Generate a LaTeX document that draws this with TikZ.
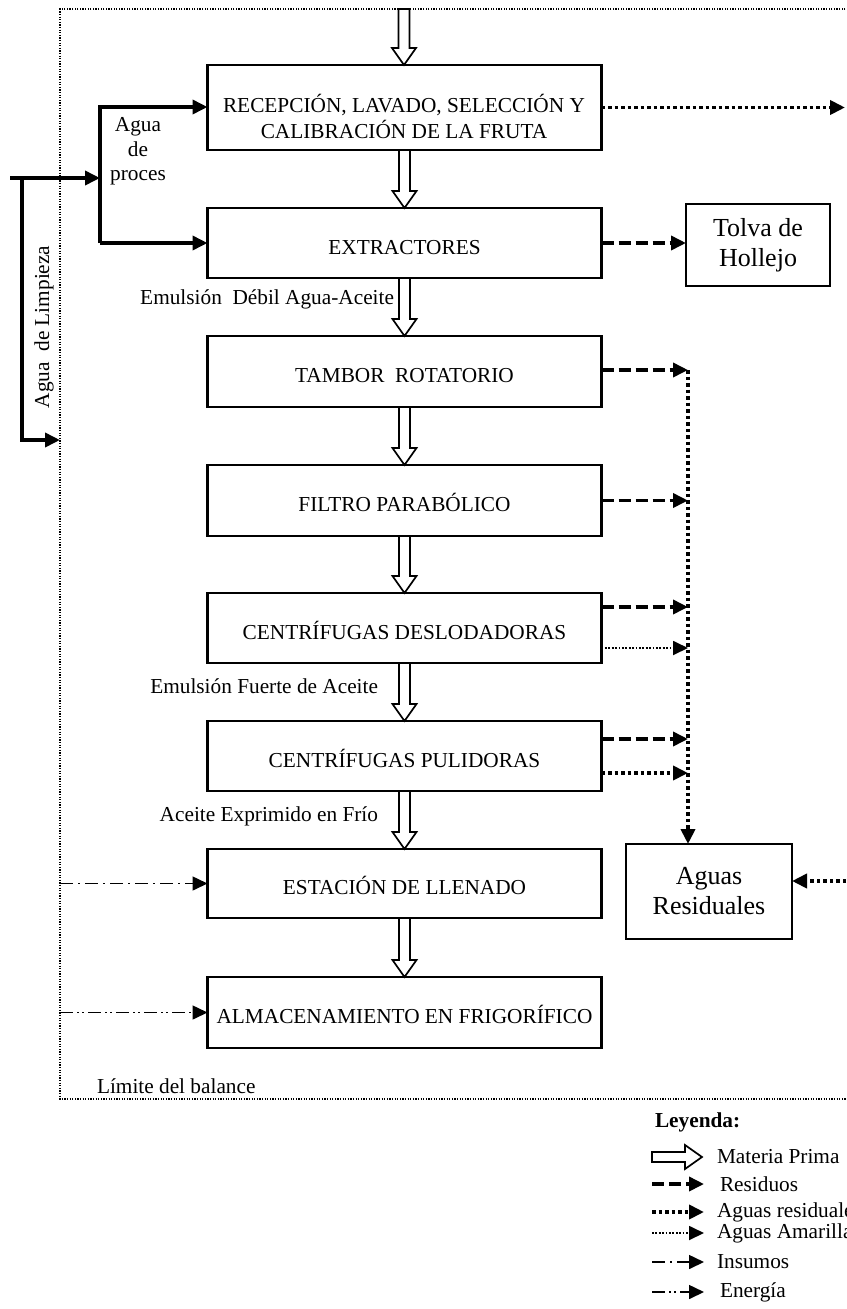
\documentclass[tikz,border=0pt]{standalone}
\usepackage{fontspec}
\setmainfont{Liberation Serif}
\usetikzlibrary{arrows.meta,calc}
\newcommand\hollowdown[2]{\draw[hollow] let \p1=(#1), \p2=(#2) in
  (\x1-5.5pt,\y1) -- (\x1-5.5pt,\y2+17pt) -- (\x1-12pt,\y2+17pt) -- (\x1,\y2)
  -- (\x1+12pt,\y2+17pt) -- (\x1+5.5pt,\y2+17pt) -- (\x1+5.5pt,\y1) -- cycle;}
\newcommand\hollowright[2]{\draw[hollow] let \p1=(#1), \p2=(#2) in
  (\x1,\y1+5pt) -- (\x2-17pt,\y1+5pt) -- (\x2-17pt,\y1+12pt) -- (\x2,\y1)
  -- (\x2-17pt,\y1-12pt) -- (\x2-17pt,\y1-5pt) -- (\x1,\y1-5pt) -- cycle;}
\begin{document}
\begin{tikzpicture}[x=1pt,y=-1pt,
  every node/.style={inner sep=0pt,outer sep=0pt},
  box/.style={draw,line width=2.2pt,minimum width=394pt,minimum height=71pt,
    font=\fontsize{21.3}{26}\selectfont,text height=22pt,text depth=0pt},
  btxt/.style={font=\fontsize{21.3}{26}\selectfont},
  sbox/.style={draw,line width=1.7pt,align=center,font=\fontsize{26}{30}\selectfont},
  lbl/.style={font=\fontsize{21.3}{24}\selectfont},
  arrtip/.style={-{Triangle[length=15pt,width=14pt]}},
  solidthick/.style={line width=3.6pt,line join=miter,arrtip},
  residuo/.style={line width=3.6pt,dash pattern=on 12pt off 5pt,arrtip},
  aresid/.style={line width=3.8pt,dash pattern=on 3.5pt off 3pt,arrtip},
  amarilla/.style={line width=1.8pt,dash pattern=on 1.8pt off 1.6pt,arrtip},
  insumo/.style={line width=1.6pt,dash pattern=on 13pt off 5pt on 2pt off 5pt,arrtip},
  energia/.style={line width=1.6pt,dash pattern=on 13pt off 4pt on 2pt off 3pt on 2pt off 4pt,arrtip},
  limite/.style={line width=1.3pt,dash pattern=on 1.3pt off 1.3pt},
  hollow/.style={draw,line width=1.7pt,fill=white,line join=miter}]
\useasboundingbox (0,0) rectangle (846,1309);

% boundary
\coordinate (bTR) at (848,9);
\coordinate (bTL) at (60,9);
\coordinate (bBL) at (60,1099);
\coordinate (bBR) at (848,1099);
\draw[limite] (bTR) -- (bTL) -- (bBL) -- (bBR);
\node[lbl,anchor=base west] (lim) at (97,1093) {Límite del balance};

% process boxes
\node[box,minimum height=85pt] (b1) at (404.5,107.5) {};
\node[btxt,anchor=base] (b1a) at (404,112) {RECEPCIÓN, LAVADO, SELECCIÓN Y};
\node[btxt,anchor=base] (b1b) at (404,138) {CALIBRACIÓN DE LA FRUTA};
\node[box,minimum height=70pt] (b2) at (404.5,243) {EXTRACTORES};
\node[box] (b3) at (404.5,371.5) {TAMBOR\hspace{0.5em}ROTATORIO};
\node[box] (b4) at (404.5,500.5) {FILTRO PARABÓLICO};
\node[box,minimum height=70pt] (b5) at (404.5,628) {CENTRÍFUGAS DESLODADORAS};
\node[box,minimum height=70pt] (b6) at (404.5,756) {CENTRÍFUGAS PULIDORAS};
\node[box,minimum height=69pt] (b7) at (404.5,883.5) {ESTACIÓN DE LLENADO};
\node[box] (b8) at (404.5,1012.5) {ALMACENAMIENTO EN FRIGORÍFICO};

\node[sbox,minimum width=144pt,minimum height=82pt] (tv) at (758,245) {Tolva de\\Hollejo};
\node[sbox,minimum width=166pt,minimum height=95pt] (ar) at (709,891.5) {Aguas\\Residuales};

% main flow (materia prima)
\coordinate (in0) at (404,9);
\hollowdown{in0}{b1.north}
\hollowdown{b1.south}{b2.north}
\hollowdown{b2.south}{b3.north}
\hollowdown{b3.south}{b4.north}
\hollowdown{b4.south}{b5.north}
\hollowdown{b5.south}{b6.north}
\hollowdown{b6.south}{b7.north}
\hollowdown{b7.south}{b8.north}

\node[lbl,anchor=base east] (e1) at (394,304) {Emulsión\hspace{0.5em}Débil Agua-Aceite};
\node[lbl,anchor=base east] (e2) at (378,693) {Emulsión Fuerte de Aceite};
\node[lbl,anchor=base east] (e3) at (378,821) {Aceite Exprimido en Frío};

% agua de proceso / limpieza
\coordinate (a0) at (10,178);
\coordinate (a1) at (100,178);
\coordinate (a2) at (100,107);
\coordinate (a3) at (100,243);
\draw[solidthick] (a0) -- (a1);
\draw[solidthick] (a3) -- (a2) -- (a2 -| b1.west);
\draw[solidthick] (a3) -- (a3 -| b2.west);
\node[lbl,anchor=base] (pa) at (138,131) {Agua};
\node[lbl,anchor=base] (pb) at (138,156) {de};
\node[lbl,anchor=base] (pc) at (138,180) {proces};

\coordinate (c0) at (22,178);
\coordinate (c1) at (22,440);
\coordinate (c2) at (60,440);
\draw[solidthick] (c0) -- (c1) -- (c2);
\node[lbl,rotate=90] (limp) at (44,327) {Agua\hspace{0.5em}de Limpieza};

% waste flows
\coordinate (out1) at (845,107);
\draw[aresid] (b1.east) -- (b1.east -| out1);
\draw[residuo] (b2.east) -- (b2.east -| tv.west);

\coordinate (vtop) at (688,370);
\coordinate (v5a) at (688,607);
\coordinate (v5b) at (688,648);
\coordinate (v6a) at (688,739);
\coordinate (v6b) at (688,773);
\draw[aresid] (vtop) -- (vtop |- ar.north);
\draw[residuo] (vtop -| b3.east) -- (vtop);
\draw[residuo] (b4.east) -- (b4.east -| vtop);
\draw[residuo] (v5a -| b5.east) -- (v5a);
\draw[amarilla] (v5b -| b5.east) -- (v5b);
\draw[residuo] (v6a -| b6.east) -- (v6a);
\draw[aresid] (v6b -| b6.east) -- (v6b);

\coordinate (in2) at (846,881);
\draw[aresid] (in2) -- (in2 -| ar.east);

% insumos / energia
\draw[insumo] (bTL |- b7.west) -- (b7.west);
\draw[energia] (bTL |- b8.west) -- (b8.west);

% legend
\node[font=\bfseries\fontsize{21.3}{24}\selectfont,anchor=base west] (ley) at (655,1127) {Leyenda:};
\coordinate (lg1a) at (652,1157); \coordinate (lg1b) at (702,1157);
\hollowright{lg1a}{lg1b}
\node[lbl,anchor=west] (lt1) at (717,1157) {Materia Prima};
\coordinate (lg2a) at (652,1184); \coordinate (lg2b) at (704,1184);
\draw[residuo] (lg2a) -- (lg2b);
\node[lbl,anchor=west] (lt2) at (720,1184) {Residuos};
\coordinate (lg3a) at (652,1212); \coordinate (lg3b) at (704,1212);
\draw[aresid] (lg3a) -- (lg3b);
\node[lbl,anchor=west] (lt3) at (717,1212) {Aguas residuales};
\coordinate (lg4a) at (652,1233); \coordinate (lg4b) at (704,1233);
\draw[amarilla] (lg4a) -- (lg4b);
\node[lbl,anchor=west] (lt4) at (717,1233) {Aguas Amarillas};
\coordinate (lg5a) at (652,1262); \coordinate (lg5b) at (704,1262);
\draw[insumo] (lg5a) -- (lg5b);
\node[lbl,anchor=west] (lt5) at (717,1262) {Insumos};
\coordinate (lg6a) at (652,1292); \coordinate (lg6b) at (704,1292);
\draw[energia] (lg6a) -- (lg6b);
\node[lbl,anchor=west] (lt6) at (720,1292) {Energía};
\end{tikzpicture}
\end{document}
